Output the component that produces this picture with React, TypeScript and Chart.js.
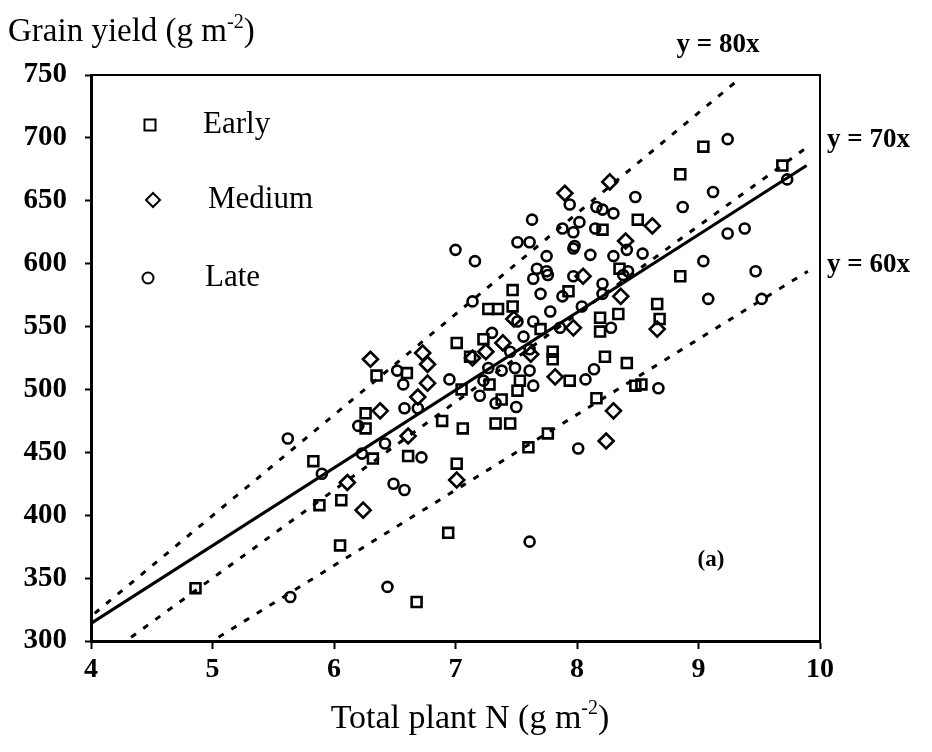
import React, { useEffect, useRef } from 'react';
import { Chart, registerables } from 'chart.js';

Chart.register(...registerables);

// Total plant N (g m-2) and grain yield (g m-2) per maturity group
const EARLY_N = [4.86, 5.83, 5.88, 6.06, 6.05, 6.26, 6.26, 6.35, 6.32, 6.61, 6.60, 6.68, 6.94, 6.89, 7.01, 7.01, 7.06, 7.47, 7.27, 7.35, 7.23, 7.12, 7.28, 7.38, 7.51, 7.53, 7.80, 7.80, 7.94, 7.33, 7.45, 7.76, 7.60, 7.47, 8.85, 8.50, 8.21, 8.35, 8.85, 8.34, 8.19, 8.19, 8.66, 8.68, 8.23, 8.41, 9.04, 9.69, 8.16, 8.53, 8.48, 7.93, 7.70, 7.05];
const EARLY_YIELD = [342, 443, 408, 412, 376, 481, 469, 511, 445, 447, 513, 331, 386, 475, 441, 537, 469, 579, 564, 564, 540, 526, 504, 492, 499, 507, 530, 524, 507, 473, 473, 465, 454, 566, 671, 635, 627, 596, 590, 560, 557, 546, 568, 556, 526, 521, 693, 678, 493, 504, 503, 578, 548, 500];

const MEDIUM_N = [6.30, 6.73, 6.77, 6.77, 6.38, 6.61, 6.11, 6.24, 7.01, 8.27, 8.62, 8.24, 8.30, 7.90, 7.97, 7.39, 7.14, 7.82, 7.48, 8.05, 8.40, 7.62, 6.69, 7.25, 8.36, 8.66];
const MEDIUM_YIELD = [524, 529, 520, 505, 483, 463, 426, 404, 428, 665, 630, 459, 483, 656, 549, 537, 525, 510, 556, 590, 618, 528, 494, 530, 574, 548];

const LATE_N = [5.62, 5.64, 6.44, 5.90, 6.49, 6.58, 6.52, 6.57, 6.95, 6.58, 6.69, 6.23, 6.42, 6.72, 7.00, 7.16, 7.51, 7.61, 7.63, 7.94, 7.88, 7.97, 7.97, 7.75, 7.67, 7.75, 7.97, 9.24, 9.12, 8.87, 9.24, 9.38, 9.04, 9.47, 9.08, 9.52, 9.73, 8.48, 8.16, 8.21, 8.02, 8.15, 7.98, 8.11, 8.30, 8.41, 8.54, 8.38, 8.21, 8.07, 8.67, 8.01, 7.61, 7.14, 7.64, 7.76, 7.70, 7.88, 7.51, 7.64, 7.78, 7.30, 7.61, 7.27, 7.38, 7.49, 7.61, 7.23, 7.64, 7.20, 8.42, 8.21, 8.04, 7.56, 7.45, 8.28, 8.14, 7.86, 7.33, 7.50, 8.30, 6.20];
const LATE_YIELD = [461, 335, 343, 433, 425, 420, 515, 504, 508, 485, 485, 449, 457, 446, 611, 602, 617, 617, 635, 647, 628, 625, 612, 606, 596, 594, 590, 699, 657, 645, 624, 628, 602, 594, 572, 572, 667, 653, 645, 643, 633, 628, 614, 607, 606, 611, 608, 591, 584, 508, 501, 453, 379, 570, 588, 591, 576, 574, 554, 554, 562, 545, 532, 517, 515, 517, 515, 507, 503, 495, 594, 576, 566, 542, 530, 549, 516, 549, 489, 486, 640, 471];

// Fitted regression line and the constant-ratio reference lines
const FIT_N = [4.0, 9.89];
const FIT_YIELD = [314, 678];
const LINE80_N = [4.03, 9.3];
const LINE80_YIELD = [322, 744];
const LINE70_N = [4.33, 9.9];
const LINE70_YIELD = [303, 693];
const LINE60_N = [5.05, 9.9];
const LINE60_YIELD = [303, 594];

const X_MIN = 4;
const X_MAX = 10;
const Y_MIN = 300;
const Y_MAX = 750;

const SERIES_LABELS = ['Early', 'Medium', 'Late'];
const RATIO_LABELS = ['y = 80x', 'y = 70x', 'y = 60x'];

const toPoints = (xs: number[], ys: number[]) => xs.map((x, i) => ({ x, y: ys[i] }));

const SERIF = '"Liberation Serif", "Times New Roman", serif';

function drawWithSuperscript(
  ctx: CanvasRenderingContext2D,
  before: string,
  sup: string,
  after: string,
  x: number,
  baseline: number,
  size: number,
  align: 'left' | 'center'
) {
  const main = `${size}px ${SERIF}`;
  const small = `${Math.round(size * 0.6)}px ${SERIF}`;
  ctx.font = main;
  const w1 = ctx.measureText(before).width;
  const w3 = ctx.measureText(after).width;
  ctx.font = small;
  const w2 = ctx.measureText(sup).width;
  const total = w1 + w2 + w3;
  let left = align === 'center' ? x - total / 2 : x;
  ctx.textAlign = 'left';
  ctx.textBaseline = 'alphabetic';
  ctx.font = main;
  ctx.fillText(before, left, baseline);
  left += w1;
  ctx.font = small;
  ctx.fillText(sup, left, baseline - size * 0.4);
  left += w2;
  ctx.font = main;
  ctx.fillText(after, left, baseline);
}

const decorations = {
  id: 'decorations',
  afterDraw(chart: any) {
    const { ctx, chartArea: a } = chart;
    ctx.save();
    ctx.fillStyle = '#000';
    ctx.strokeStyle = '#000';

    // top and right frame lines
    ctx.lineWidth = 2;
    ctx.beginPath();
    ctx.moveTo(a.left, a.top);
    ctx.lineTo(a.right, a.top);
    ctx.lineTo(a.right, a.bottom);
    ctx.stroke();

    // legend inside the plot
    ctx.lineWidth = 2;
    const sq = 11;
    ctx.strokeRect(150 - sq / 2, 125 - sq / 2, sq, sq);
    ctx.beginPath();
    ctx.moveTo(153, 193);
    ctx.lineTo(160, 200);
    ctx.lineTo(153, 207);
    ctx.lineTo(146, 200);
    ctx.closePath();
    ctx.stroke();
    ctx.beginPath();
    ctx.arc(148, 278, 5.5, 0, Math.PI * 2);
    ctx.stroke();

    ctx.font = `31px ${SERIF}`;
    ctx.textAlign = 'left';
    ctx.textBaseline = 'middle';
    ctx.fillText(SERIES_LABELS[0], 203, 125);
    ctx.fillText(SERIES_LABELS[1], 208, 200);
    ctx.fillText(SERIES_LABELS[2], 205, 278);

    // ratio line labels
    ctx.font = `bold 27px ${SERIF}`;
    ctx.textAlign = 'center';
    ctx.fillText(RATIO_LABELS[0], 718, 45);
    ctx.textAlign = 'left';
    ctx.fillText(RATIO_LABELS[1], 827, 140);
    ctx.fillText(RATIO_LABELS[2], 827, 265);

    // panel tag
    ctx.font = `bold 23px ${SERIF}`;
    ctx.textAlign = 'center';
    ctx.fillText('(a)', 711, 560);

    // axis titles
    drawWithSuperscript(ctx, 'Grain yield (g m', '-2', ')', 8, 41, 33, 'left');
    drawWithSuperscript(ctx, 'Total plant N (g m', '-2', ')', 470, 728, 34, 'center');

    ctx.restore();
  },
};

export default function App() {
  const canvasRef = useRef<HTMLCanvasElement | null>(null);

  useEffect(() => {
    if (!canvasRef.current) return;
    const marker = {
      borderColor: '#000',
      backgroundColor: 'rgba(0,0,0,0)',
      borderWidth: 2.6,
      showLine: false,
    };
    const refLine = {
      borderColor: '#000',
      borderWidth: 3,
      borderDash: [6, 9],
      pointRadius: 0,
      showLine: true,
      fill: false,
    };
    const chart = new Chart(canvasRef.current, {
      type: 'scatter',
      data: {
        datasets: [
          { label: 'y = 80x', data: toPoints(LINE80_N, LINE80_YIELD), ...refLine },
          { label: 'y = 70x', data: toPoints(LINE70_N, LINE70_YIELD), ...refLine },
          { label: 'y = 60x', data: toPoints(LINE60_N, LINE60_YIELD), ...refLine },
          {
            label: 'fit',
            data: toPoints(FIT_N, FIT_YIELD),
            borderColor: '#000',
            borderWidth: 3,
            pointRadius: 0,
            showLine: true,
            fill: false,
          },
          { label: SERIES_LABELS[0], data: toPoints(EARLY_N, EARLY_YIELD), pointStyle: 'rect', pointRadius: 7, ...marker },
          { label: SERIES_LABELS[1], data: toPoints(MEDIUM_N, MEDIUM_YIELD), pointStyle: 'rectRot', pointRadius: 7.5, ...marker },
          { label: SERIES_LABELS[2], data: toPoints(LATE_N, LATE_YIELD), pointStyle: 'circle', pointRadius: 5, ...marker },
        ],
      },
      options: {
        animation: false,
        responsive: true,
        maintainAspectRatio: false,
        layout: { padding: { left: 0, right: 112, top: 75, bottom: 0 } },
        plugins: {
          legend: { display: false },
          tooltip: { enabled: false },
        },
        scales: {
          x: {
            type: 'linear',
            min: X_MIN,
            max: X_MAX,
            afterFit: (scale: any) => {
              scale.height = 111;
            },
            ticks: {
              stepSize: 1,
              color: '#000',
              padding: 4,
              font: { family: SERIF, weight: 'bold', size: 28 },
            },
            grid: {
              display: true,
              drawOnChartArea: false,
              drawTicks: true,
              tickLength: 8,
              tickWidth: 2,
              tickColor: '#000',
            },
            border: { display: true, color: '#000', width: 3 },
          },
          y: {
            type: 'linear',
            min: Y_MIN,
            max: Y_MAX,
            afterFit: (scale: any) => {
              scale.width = 91;
            },
            ticks: {
              stepSize: 50,
              color: '#000',
              padding: 18,
              font: { family: SERIF, weight: 'bold', size: 29 },
            },
            grid: {
              display: true,
              drawOnChartArea: false,
              drawTicks: true,
              tickLength: 6,
              tickWidth: 2,
              tickColor: '#000',
            },
            border: { display: true, color: '#000', width: 3 },
          },
        },
      },
      plugins: [decorations],
    } as any);
    return () => chart.destroy();
  }, []);

  return (
    <div style={{ position: 'absolute', left: 0, top: 0, width: 932, height: 752, background: '#fff' }}>
      <canvas ref={canvasRef} />
    </div>
  );
}
